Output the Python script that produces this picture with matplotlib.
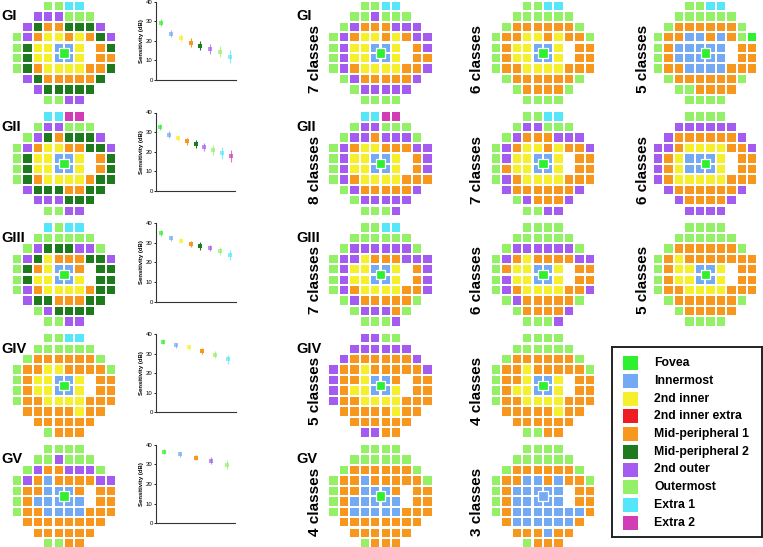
import matplotlib
matplotlib.use('Agg')
import matplotlib.pyplot as plt
from matplotlib.patches import Rectangle

plt.rcParams['font.family'] = ['Liberation Sans', 'DejaVu Sans']

W, H = 763, 547

# ---------------- data ----------------
legend_keys = list('FBYRODPLCM')
legend_labels = ['Fovea', 'Innermost', '2nd inner', '2nd inner extra',
                 'Mid-peripheral 1', 'Mid-peripheral 2', '2nd outer',
                 'Outermost', 'Extra 1', 'Extra 2']
colors = {'F': '#2ef02e', 'B': '#74a9f4', 'Y': '#f6f02c', 'R': '#ee1c25',
          'O': '#f8971d', 'D': '#1d7a1d', 'P': '#a45cf0', 'L': '#94f066',
          'C': '#56e6fa', 'M': '#d23cb4'}

group_names = ['GI', 'GII', 'GIII', 'GIV', 'GV']

# left column grids (one per group)
grid_GI = ["   LLCC   ", "  PPPLLL  ", " PDOODDDP ", "LPOYYOYODP", "LDYYBBY OD",
           "LDYYBBY OO", "LDOYYYYOOD", " PDOOOOOD ", "  PDDDDD  ", "   LLPP   "]
grid_GII = ["   CCMM   ", "  LPPLLL  ", " LPDODDDP ", "LPOYYOODDP", "LDYYBBY OD",
            "LDYYBBY OD", "LDOYYYYODD", " PDDDOODD ", "  PPPDDD  ", "   LLPP   "]
grid_GIII = ["   CLCC   ", "  LLLLLL  ", " LPDDDPPL ", "LPDYOOODDP", "LDOYBBO DD",
             "LDYYBBY DD", "LPOYYYYODD", " PDDOOODD ", "  LPDDDD  ", "   LLPP   "]
grid_GIV = ["   LLCC   ", "  LLLLLL  ", " LOOOOOOL ", "LOOYYOOOOL", "LOYYBBY OO",
            "LOYYBBY OO", "LOOYYYYOOO", " OOOOOYOO ", "  OOOOOO  ", "   LOOO   "]
grid_GV = ["   LLLL   ", "  LLPLLL  ", " LPOOPPPL ", "LPOBOOOOPP", "LOOBBBO OO",
           "LOBBBBB OO", "LOOBBBBOOO", " OOOOOOOO ", "  OOOOOO  ", "   LLOO   "]
left_grids = [grid_GI, grid_GII, grid_GIII, grid_GIV, grid_GV]

# right-hand grids: alternative numbers of classes
GI_7 = ["   LLCC   ", "  LLPLLL  ", " LPOOOPPP ", "LPOYYOYOPP", "LPYYBBY OP",
        "LPYYBBY OO", "LPOYYYYOOP", " LPOOOOOP ", "  LPPPPP  ", "   LLLL   "]
GI_6 = ["   LLCC   ", "  LLLLLL  ", " LOOOOOOL ", "LOOYYOYOOL", "LOYYBBY OO",
        "LOYYBBY OO", "LOOYYYYOOO", " LOOOOOOL ", "  LOOOOL  ", "   LLLL   "]
GI_5 = ["   LLCC   ", "  LLLLLL  ", " LOOOOOOL ", "LOOBBOBOLF", "LOBBBBB OO",
        "LOBBBBB OO", "LOOBBBBOOO", " LOOOOOOL ", "  LLOOOO  ", "   LLLL   "]
GII_8 = ["   CCMM   ", "  LPPLLL  ", " LPPOPPPL ", "LPOYYOOOPP", "LPYYBBY OP",
         "LPYYBBY OP", "LPOYYYYOOO", " LPOOOOOP ", "  LPPPPP  ", "   LLLP   "]
GII_7 = ["   LLCC   ", "  LPPLLL  ", " LPOOOPPP ", "LPOYYOYOOP", "LPYYBBY OO",
         "LOYYBBY OO", "LPOYYYYOOO", " POOOOOOP ", "  LPOOOP  ", "   LLPP   "]
GII_6 = ["   LLLL   ", "  PPPPPP  ", " POOOOOOP ", "PPOYYYYOOP", "POYBBBY OO",
         "POYBBBY OO", "POYYYYYOOO", " POOOOOOP ", "  POOOOP  ", "   PPPP   "]
GIII_7 = ["   LLCC   ", "  LLLLLL  ", " LPPPPPPL ", "LPPYOOOPPP", "LPYYBBY OP",
          "LPYYBBY OP", "LPOYYYYOOP", " LPOOOOOL ", "  LPPPOL  ", "   LLLP   "]
GIII_6 = ["   LLLL   ", "  LLLLLL  ", " LPPPPPPL ", "LPOYOOOOPP", "LOYYBBY OO",
          "LPYYBBY OO", "LPOYYYYOOP", " LPOOOOOL ", "  LOOOOP  ", "   LLLP   "]
GIII_5 = ["   LLLL   ", "  LLLLLL  ", " LOOOOOOL ", "LOYOOOOOOO", "LOYYBBY OO",
          "LOYYBBY OO", "LOOYYYYOOO", " LOOOOOOL ", "  LOOOOO  ", "   LLLL   "]
GIV_5 = ["   PPLL   ", "  PPPPPP  ", " POOOOOOP ", "POOYOOOOOP", "POOYBBO OO",
         "POYYBBY OO", "POOYYYYOOO", " OOOOOYOO ", "  OOOOOO  ", "   PPOO   "]
GIV_4 = ["   LLLL   ", "  LLLLLL  ", " LOOOOOOL ", "LOOYOOOOOL", "LOOYBBY OO",
         "LOYYBBY OO", "LOOYYYYOOO", " OOOOOYOO ", "  OOOOOO  ", "   LLOO   "]
GV_4 = ["   LLLL   ", "  LLLLLL  ", " LOOOOOOL ", "LOOBOOOOOL", "LOOBBBO OO",
        "LOBBBBB OO", "LOBBBBBOOO", " OOOOOOOO ", "  OOOOOO  ", "   LOOO   "]
GV_3 = ["   LLLL   ", "  LLLLLL  ", " LOOOOOOL ", "LOOBBOBOOL", "LOBBBBB OO",
        "LOBBBBB OO", "LOBBBBBBBO", " OBBBBBBO ", "  OOOBOO  ", "   LOOO   "]
right_grids = [[GI_7, GI_6, GI_5], [GII_8, GII_7, GII_6], [GIII_7, GIII_6, GIII_5],
               [GIV_5, GIV_4], [GV_4, GV_3]]
right_fovea = [['F', 'F', 'F'], ['F', 'F', 'F'], ['F', 'F', 'F'], ['F', 'F'], ['F', 'B']]
class_labels = [['7 classes', '6 classes', '5 classes'],
                ['8 classes', '7 classes', '6 classes'],
                ['7 classes', '6 classes', '5 classes'],
                ['5 classes', '4 classes'],
                ['4 classes', '3 classes']]

# sensitivity (dB) mean and SD per class for each group
GI_keys = 'FBYODPLC'
GI_mean = [29.3, 23.7, 21.6, 19.1, 17.5, 15.8, 14.5, 11.9]
GI_sd = [1.7, 1.8, 2.0, 2.2, 2.4, 2.5, 2.7, 3.2]
GII_keys = 'FBYODPLCM'
GII_mean = [32.6, 28.7, 27.0, 25.2, 23.9, 22.3, 20.8, 19.2, 17.7]
GII_sd = [1.6, 1.6, 1.4, 1.8, 2.2, 1.9, 2.4, 3.0, 3.0]
GIII_keys = 'FBYODPLC'
GIII_mean = [34.9, 32.3, 31.0, 29.6, 28.4, 27.4, 26.0, 23.8]
GIII_sd = [1.5, 1.3, 1.3, 1.6, 1.8, 1.7, 2.0, 2.5]
GIV_keys = 'FBYOLC'
GIV_mean = [36.2, 34.3, 33.3, 31.4, 29.4, 27.1]
GIV_sd = [1.2, 1.2, 1.3, 1.6, 1.8, 2.2]
GV_keys = 'FBOPL'
GV_mean = [36.6, 35.2, 33.5, 32.0, 29.8]
GV_sd = [1.4, 1.2, 1.4, 1.6, 2.3]
sens = [(GI_keys, GI_mean, GI_sd), (GII_keys, GII_mean, GII_sd),
        (GIII_keys, GIII_mean, GIII_sd), (GIV_keys, GIV_mean, GIV_sd),
        (GV_keys, GV_mean, GV_sd)]

# ---------------- layout (pixels) ----------------
fig = plt.figure(figsize=(W / 100, H / 100), dpi=100)


def px_axes(x, y, w, h):
    return fig.add_axes([x / W, 1 - (y + h) / H, w / W, h / H])


def px_text(x, y, s, **kw):
    fig.text(x / W, 1 - y / H, s, **kw)


PITCH = 10.45
row_top = [1.7 + 110.8 * i for i in range(5)]
grid_left_x = 12.7
right_cols_x = [329.3, 491.7, 654.0]
label_x = [315, 476.5, 643]


def draw_grid(ax, rows, fovea):
    for r, row in enumerate(rows):
        for c, k in enumerate(row):
            if k == ' ':
                continue
            ax.add_patch(Rectangle((c - 0.4, r - 0.4), 0.8, 0.8,
                                   facecolor=colors[k], edgecolor='none'))
    ax.add_patch(Rectangle((4.5 - 0.45, 4.5 - 0.45), 0.9, 0.9,
                           facecolor=colors[fovea], edgecolor='white', lw=0.9))
    ax.set_xlim(-0.5, 9.5)
    ax.set_ylim(9.5, -0.5)
    ax.axis('off')


def grid_axes(x_edge, y_edge):
    off = 0.1 * PITCH
    return px_axes(x_edge - off, y_edge - off, 10 * PITCH, 10 * PITCH)


for i, name in enumerate(group_names):
    # left grid
    ax = grid_axes(grid_left_x, row_top[i])
    draw_grid(ax, left_grids[i], 'F')
    px_text(1, row_top[i] + 18.5, name, fontsize=10.5, fontweight='bold',
            va='baseline', ha='left')
    px_text(296, row_top[i] + 18.5, name, fontsize=10.5, fontweight='bold',
            va='baseline', ha='left')

    # sensitivity plot
    keys, mean, sd = sens[i]
    sax = px_axes(155.5, row_top[i], 80, 78.3)
    n = len(mean)
    for j in range(n):
        col = colors[keys[j]]
        alpha = 1.0 if keys[j] in 'DO' else 0.7
        sax.errorbar([j], [mean[j]], yerr=[sd[j]], fmt='s', ms=2.4,
                     color=col, ecolor=col, elinewidth=0.8, capsize=1.6,
                     capthick=0.8, alpha=alpha, mew=0)
    sax.set_xlim(-0.55, n - 0.45)
    sax.set_ylim(0, 40)
    sax.set_yticks([0, 10, 20, 30, 40])
    sax.set_xticks([])
    sax.tick_params(axis='y', labelsize=4.3, length=1.5, width=0.6, pad=0.5)
    for s in ('top', 'right'):
        sax.spines[s].set_visible(False)
    for s in ('left', 'bottom'):
        sax.spines[s].set_linewidth(0.8)
        sax.spines[s].set_color('#333333')
    sax.set_ylabel('Sensitivity (dB)', fontsize=4.3, fontweight='bold', labelpad=1.5)
    sax.set_facecolor('none')

    # right grids
    for k, g in enumerate(right_grids[i]):
        ax = grid_axes(right_cols_x[k], row_top[i])
        draw_grid(ax, g, right_fovea[i][k])
        px_text(label_x[k], row_top[i] + 57, class_labels[i][k], fontsize=11,
                fontweight='bold', rotation=90, ha='center', va='center')

# legend
lax = px_axes(611.7, 346.7, 150, 190)
lax.set_xlim(0, 150)
lax.set_ylim(190, 0)
lax.set_xticks([])
lax.set_yticks([])
for s in lax.spines.values():
    s.set_linewidth(1.4)
    s.set_color('#222222')
for j, (k, lab) in enumerate(zip(legend_keys, legend_labels)):
    yc = 16.6 + 17.7 * j
    lax.add_patch(Rectangle((11.5, yc - 7), 15, 14, facecolor=colors[k], edgecolor='none'))
    lax.text(42.6, yc, lab, fontsize=8.8, fontweight='bold', va='center', ha='left')

fig.savefig('out.png', dpi=100)
